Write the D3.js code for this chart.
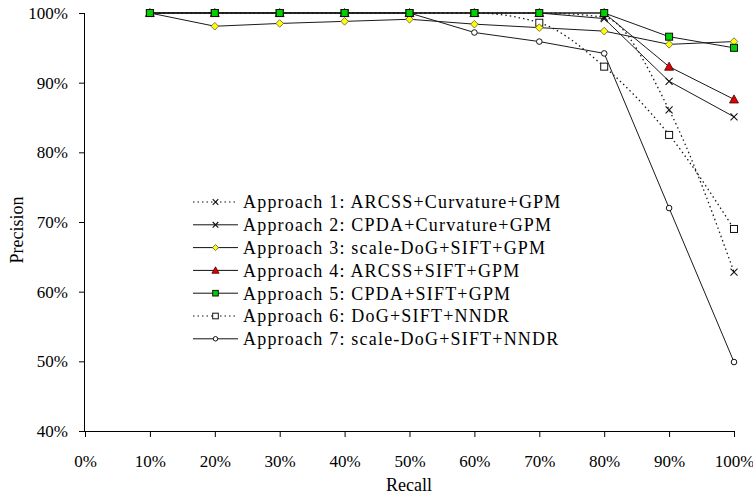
<!DOCTYPE html>
<html lang="en">
<head>
<meta charset="UTF-8">
<title>Precision vs Recall</title>
<script src="https://d3js.org/d3.v7.min.js"></script>
<style>
    html, body { margin: 0; padding: 0; background: #fff; }
    svg { display: block; }
    text { font-family: "Liberation Serif", "Times New Roman", serif; fill: #000; }
</style>
</head>
<body>
<svg id="chart" width="753" height="495"></svg>
<script>
    // recall levels (x) and precision per approach (y), in percent
    var recall = [10, 20, 30, 40, 50, 60, 70, 80, 90, 100];
    var approach1 = [100, 100, 100, 100, 100, 100, 100, 99.4, 86.1, 62.8];
    var approach2 = [100, 100, 100, 100, 100, 100, 100, 99.2, 90.2, 85.1];
    var approach3 = [100, 98.1, 98.5, 98.8, 99.1, 98.4, 97.9, 97.4, 95.5, 95.9];
    var approach4 = [100, 100, 100, 100, 100, 100, 100, 100, 92.3, 87.6];
    var approach5 = [100, 100, 100, 100, 100, 100, 100, 100, 96.6, 95.0];
    var approach6 = [100, 100, 100, 100, 100, 100, 98.6, 92.3, 82.5, 69.0];
    var approach7 = [100, 100, 100, 100, 100, 97.2, 95.9, 94.2, 72.0, 49.9];
    var names = [
        "Approach 1: ARCSS+Curvature+GPM",
        "Approach 2: CPDA+Curvature+GPM",
        "Approach 3: scale-DoG+SIFT+GPM",
        "Approach 4: ARCSS+SIFT+GPM",
        "Approach 5: CPDA+SIFT+GPM",
        "Approach 6: DoG+SIFT+NNDR",
        "Approach 7: scale-DoG+SIFT+NNDR"
    ];
    var xTicks = [0, 10, 20, 30, 40, 50, 60, 70, 80, 90, 100];
    var yTicks = [40, 50, 60, 70, 80, 90, 100];

    var series = [
        {name: names[0], values: approach1, dotted: true,  marker: "x"},
        {name: names[1], values: approach2, dotted: false, marker: "x"},
        {name: names[2], values: approach3, dotted: false, marker: "diamond"},
        {name: names[3], values: approach4, dotted: false, marker: "triangle"},
        {name: names[4], values: approach5, dotted: false, marker: "square"},
        {name: names[5], values: approach6, dotted: true,  marker: "open-square"},
        {name: names[6], values: approach7, dotted: false, marker: "circle"}
    ];

    var svg = d3.select("#chart");
    var x = d3.scaleLinear().domain([0, 100]).range([85, 734]);
    var y = d3.scaleLinear().domain([40, 100]).range([431, 13]);

    // axes
    var xAxis = svg.append("g")
        .attr("transform", "translate(0," + y(40) + ")")
        .call(d3.axisBottom(x).tickValues(xTicks).tickSize(6).tickFormat(function(d) { return d + "%"; }));
    xAxis.selectAll("text").attr("font-size", 17).attr("dy", "1.6em")
        .style("font-family", "Liberation Serif, serif");
    var yAxis = svg.append("g")
        .attr("transform", "translate(" + x(0) + ",0)")
        .call(d3.axisLeft(y).tickValues(yTicks).tickSize(6).tickFormat(function(d) { return d + "%"; }));
    yAxis.selectAll("text").attr("font-size", 17).attr("x", -17)
        .style("font-family", "Liberation Serif, serif");
    svg.selectAll(".domain").attr("stroke", "#000");
    svg.selectAll(".tick line").attr("stroke", "#000");
    // keep the domain lines flat, without outer ticks
    xAxis.select(".domain").attr("d", "M" + x(0) + ",0.5H" + x(100));
    yAxis.select(".domain").attr("d", "M-0.5," + y(40) + "V" + y(100));

    svg.append("text").attr("x", 409).attr("y", 491).attr("text-anchor", "middle")
        .attr("font-size", 18).text("Recall");
    svg.append("text").attr("transform", "translate(23,230) rotate(-90)")
        .attr("text-anchor", "middle").attr("font-size", 18).text("Precision");

    // lines
    series.forEach(function(s) {
        var pts = recall.map(function(r, i) { return [r, s.values[i]]; });
        var line = d3.line()
            .x(function(d) { return x(d[0]); })
            .y(function(d) { return y(d[1]); })
            .curve(s.dotted ? d3.curveMonotoneX : d3.curveLinear);
        svg.append("path")
            .attr("d", line(pts))
            .attr("fill", "none")
            .attr("stroke", "#1a1a1a")
            .attr("stroke-width", s.dotted ? 1.3 : 1)
            .attr("stroke-dasharray", s.dotted ? "1.5,3" : null);
    });

    function drawMarker(g, type, cx, cy, k) {
        if (type === "x") {
            var r = 3.5 * k;
            g.append("path")
                .attr("d", "M" + (cx - r) + "," + (cy - r) + "L" + (cx + r) + "," + (cy + r) +
                           "M" + (cx - r) + "," + (cy + r) + "L" + (cx + r) + "," + (cy - r))
                .attr("stroke", "#111").attr("stroke-width", 1.1).attr("fill", "none");
        } else if (type === "diamond") {
            var d = 3.8 * k;
            g.append("path")
                .attr("d", "M" + cx + "," + (cy - d) + "L" + (cx + d) + "," + cy + "L" + cx + "," + (cy + d) + "L" + (cx - d) + "," + cy + "Z")
                .attr("fill", "#ffff00").attr("stroke", "#555").attr("stroke-width", 0.8);
        } else if (type === "triangle") {
            var t = 4.5 * k;
            g.append("path")
                .attr("d", "M" + cx + "," + (cy - t) + "L" + (cx + t) + "," + (cy + t * 0.8) + "L" + (cx - t) + "," + (cy + t * 0.8) + "Z")
                .attr("fill", "#e00000").attr("stroke", "#400").attr("stroke-width", 0.8);
        } else if (type === "square") {
            var q = 3.5 * k;
            g.append("rect").attr("x", cx - q).attr("y", cy - q).attr("width", 2 * q).attr("height", 2 * q)
                .attr("fill", "#00d000").attr("stroke", "#111").attr("stroke-width", 1);
        } else if (type === "open-square") {
            var o = 3.5 * k;
            g.append("rect").attr("x", cx - o).attr("y", cy - o).attr("width", 2 * o).attr("height", 2 * o)
                .attr("fill", "#fff").attr("stroke", "#111").attr("stroke-width", 1);
        } else if (type === "circle") {
            g.append("circle").attr("cx", cx).attr("cy", cy).attr("r", 2.8 * k)
                .attr("fill", "#fff").attr("stroke", "#111").attr("stroke-width", 1);
        }
    }

    // markers, green squares end up on top as in the original
    var markerOrder = [6, 5, 1, 0, 3, 2, 4];
    var markG = svg.append("g");
    markerOrder.forEach(function(si) {
        var s = series[si];
        recall.forEach(function(r, i) {
            drawMarker(markG, s.marker, x(r), y(s.values[i]), 1);
        });
    });

    // legend
    var legend = svg.append("g");
    series.forEach(function(s, i) {
        var ly = 202 + i * 22.8;
        legend.append("line")
            .attr("x1", 193).attr("x2", 238).attr("y1", ly).attr("y2", ly)
            .attr("stroke", "#111").attr("stroke-width", 1)
            .attr("stroke-dasharray", s.dotted ? "1.5,3" : null);
        drawMarker(legend, s.marker, 215.5, ly, 0.8);
        legend.append("text")
            .attr("x", 243).attr("y", ly).attr("dy", "0.35em")
            .attr("font-size", 18).attr("letter-spacing", "1.2px")
            .text(s.name);
    });
</script>
</body>
</html>
